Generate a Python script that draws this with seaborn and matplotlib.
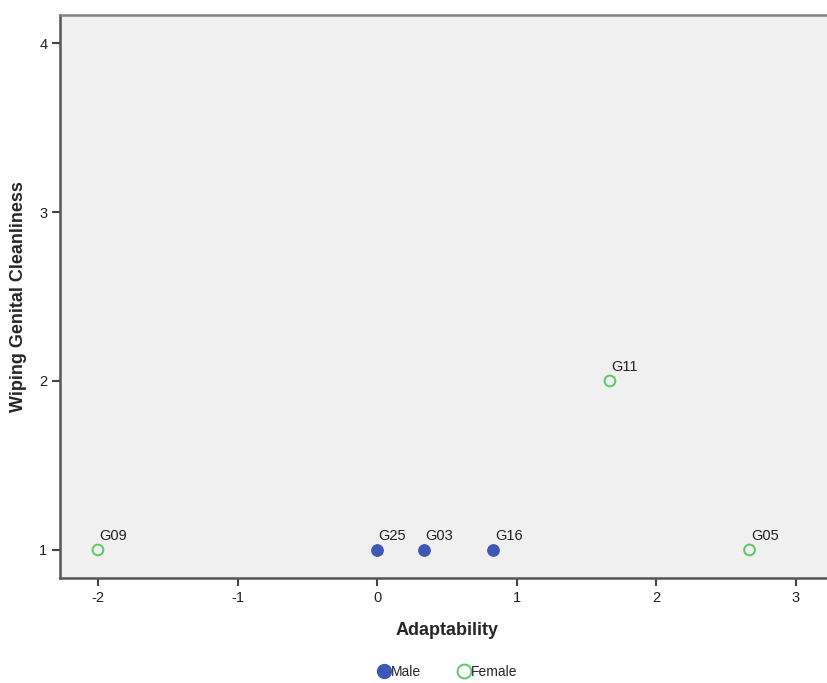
import matplotlib
matplotlib.use("Agg")
import matplotlib.pyplot as plt
from matplotlib.lines import Line2D
import seaborn as sns
import pandas as pd

# data
ids = ["G09", "G25", "G03", "G16", "G05", "G11"]
adaptability = [-2.0, 0.0, 0.333, 0.833, 2.667, 1.667]
wiping = [1, 1, 1, 1, 1, 2]
sex = ["Female", "Male", "Male", "Male", "Female", "Female"]

df = pd.DataFrame({"id": ids, "x": adaptability, "y": wiping, "sex": sex})

male_col = "#3E58B5"
female_col = "#5ACB63"

sns.set_style("white")
plt.rcParams["font.family"] = ["Liberation Sans", "DejaVu Sans"]
plt.rcParams["axes.unicode_minus"] = False

fig = plt.figure(figsize=(8.28, 6.83), dpi=100)
ax = fig.add_axes([60 / 828, 1 - 578 / 683, 1 - 60 / 828, (578 - 15) / 683])
ax.set_facecolor("#F0F0F0")

male = df[df.sex == "Male"]
female = df[df.sex == "Female"]
sns.scatterplot(data=male, x="x", y="y", ax=ax, s=70, color=male_col,
                edgecolor=male_col, linewidth=0.8, legend=False, zorder=3)
sns.scatterplot(data=female, x="x", y="y", ax=ax, s=60, facecolor="none",
                edgecolor=female_col, linewidth=1.4, legend=False, zorder=3)

for _, row in df.iterrows():
    ax.annotate(row["id"], (row["x"], row["y"]), textcoords="offset points",
                xytext=(1, 7), fontsize=10.5, color="#222222")

ax.set_xlim(-2.272, 3.229)
ax.set_ylim(0.834, 4.166)
ax.set_xticks([-2, -1, 0, 1, 2, 3])
ax.set_yticks([1, 2, 3, 4])
ax.tick_params(axis="both", direction="out", length=6, width=1.5,
               color="#444444", labelsize=10.5, labelcolor="#222222", pad=3)
ax.tick_params(axis="x", bottom=True)
ax.tick_params(axis="y", left=True)

for side in ["left", "bottom", "top"]:
    ax.spines[side].set_color("#555555")
    ax.spines[side].set_linewidth(1.8)
ax.spines["top"].set_color("#808080")
ax.spines["right"].set_visible(False)

ax.set_xlabel("Adaptability", fontsize=13, fontweight="bold")
ax.set_ylabel("Wiping Genital Cleanliness", fontsize=13, fontweight="bold")
ax.xaxis.set_label_coords((447 - 60) / 768, -(622 - 578) / 563)
ax.yaxis.set_label_coords(-(60 - 27) / 768, (578 - 297) / 563)

handles = [
    Line2D([], [], marker="o", linestyle="", markersize=10, color=male_col, label="Male"),
    Line2D([], [], marker="o", linestyle="", markersize=10, markerfacecolor="none",
           markeredgecolor=female_col, markeredgewidth=1.4, label="Female"),
]
fig.legend(handles=handles, loc="center", bbox_to_anchor=(447 / 828, 1 - 672 / 683),
           ncol=2, frameon=False, fontsize=10, handletextpad=0.0,
           columnspacing=2.6, handlelength=1.0)

plt.savefig("out.png", dpi=100)
